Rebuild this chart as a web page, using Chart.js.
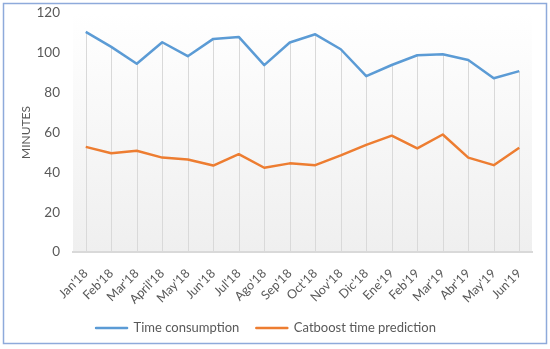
<!DOCTYPE html>
<html>
<head>
<meta charset="utf-8">
<script src="https://cdn.jsdelivr.net/npm/chart.js@4"></script>
<style>
  html, body { margin: 0; padding: 0; background: #fff; }
  #wrap { width: 550px; height: 349px; position: relative; }
</style>
</head>
<body>
<div id="wrap"><canvas id="chart"></canvas></div>
<script>
const months = ["Jan'18", "Feb'18", "Mar'18", "April'18", "May'18", "Jun'18", "Jul'18", "Ago'18", "Sep'18",
    "Oct'18", "Nov'18", "Dic'18", "Ene'19", "Feb'19", "Mar'19", "Abr'19", "May'19", "Jun'19"];
const timeConsumption = [110.5, 103, 94.5, 105.3, 98.3, 107, 108, 93.8, 105.2, 109.3, 101.8, 88.3, 93.9, 98.8, 99.3, 96.4, 87.2, 90.8];
const catboostPrediction = [52.8, 49.6, 50.8, 47.4, 46.4, 43.4, 49.1, 42.3, 44.5, 43.6, 48.5, 53.8, 58.4, 52, 59, 47.4, 43.6, 52.3];
const yTicks = [0, 20, 40, 60, 80, 100, 120];

const textColor = '#595959';
const fontFamily = 'Lato, "Open Sans", sans-serif';

// plot area background (light gradient) + drop lines from the highest point
const plotDecor = {
    id: 'plotDecor',
    beforeDraw(chart) {
        const { ctx, chartArea: a } = chart;
        const g = ctx.createLinearGradient(0, a.top, 0, a.bottom);
        g.addColorStop(0, '#ffffff');
        g.addColorStop(1, '#efefef');
        ctx.save();
        ctx.fillStyle = g;
        ctx.fillRect(a.left, a.top, a.right - a.left, a.bottom - a.top);
        ctx.restore();
    },
    beforeDatasetsDraw(chart) {
        const { ctx, chartArea: a, scales } = chart;
        ctx.save();
        ctx.strokeStyle = '#d9d9d9';
        ctx.lineWidth = 1;
        months.forEach((m, i) => {
            const top = Math.max(...chart.data.datasets.map(d => d.data[i]));
            const x = Math.round(scales.x.getPixelForValue(i)) + 0.5;
            ctx.beginPath();
            ctx.moveTo(x, scales.y.getPixelForValue(top));
            ctx.lineTo(x, a.bottom);
            ctx.stroke();
        });
        ctx.restore();
    },
    afterDraw(chart) {
        const { ctx } = chart;
        ctx.save();
        ctx.strokeStyle = '#8eaadb';
        ctx.lineWidth = 1.5;
        ctx.strokeRect(3.5, 3.5, 543, 340);
        ctx.restore();
    }
};

new Chart(document.getElementById('chart'), {
    type: 'line',
    data: {
        labels: months,
        datasets: [{
            label: 'Time consumption',
            data: timeConsumption,
            borderColor: '#5b9bd5',
            backgroundColor: '#5b9bd5',
            borderWidth: 2.5,
            pointRadius: 0,
            tension: 0,
            borderJoinStyle: 'round'
        }, {
            label: 'Catboost time prediction',
            data: catboostPrediction,
            borderColor: '#ed7d31',
            backgroundColor: '#ed7d31',
            borderWidth: 2.5,
            pointRadius: 0,
            tension: 0,
            borderJoinStyle: 'round'
        }]
    },
    options: {
        responsive: true,
        maintainAspectRatio: false,
        animation: false,
        layout: { padding: { left: 0, right: 18, top: 13, bottom: 4.5 } },
        plugins: {
            tooltip: { enabled: false },
            legend: {
                position: 'bottom',
                labels: {
                    boxWidth: 31,
                    boxHeight: 0,
                    padding: 17,
                    color: textColor,
                    font: { family: fontFamily, size: 13 }
                }
            }
        },
        scales: {
            x: {
                offset: true,
                grid: { display: false },
                border: { color: '#d9d9d9', width: 2 },
                ticks: {
                    color: textColor,
                    font: { family: fontFamily, size: 12.5 },
                    maxRotation: 45,
                    minRotation: 45,
                    padding: 6
                },
                afterFit(scale) { scale.height = 52.5; }
            },
            y: {
                min: 0,
                max: 120,
                afterBuildTicks(scale) { scale.ticks = yTicks.map(v => ({ value: v })); },
                grid: { display: false, drawTicks: false },
                border: { display: false },
                ticks: {
                    color: textColor,
                    font: { family: fontFamily, size: 13.5 },
                    padding: 13
                },
                title: {
                    display: true,
                    text: 'MINUTES',
                    color: textColor,
                    font: { family: fontFamily, size: 12 },
                    padding: { top: 19, bottom: 0 }
                },
                afterFit(scale) {
                    scale.width = 73;
                    scale.paddingTop = 0;
                    scale.paddingBottom = 0;
                }
            }
        }
    },
    plugins: [plotDecor]
});
</script>
</body>
</html>
